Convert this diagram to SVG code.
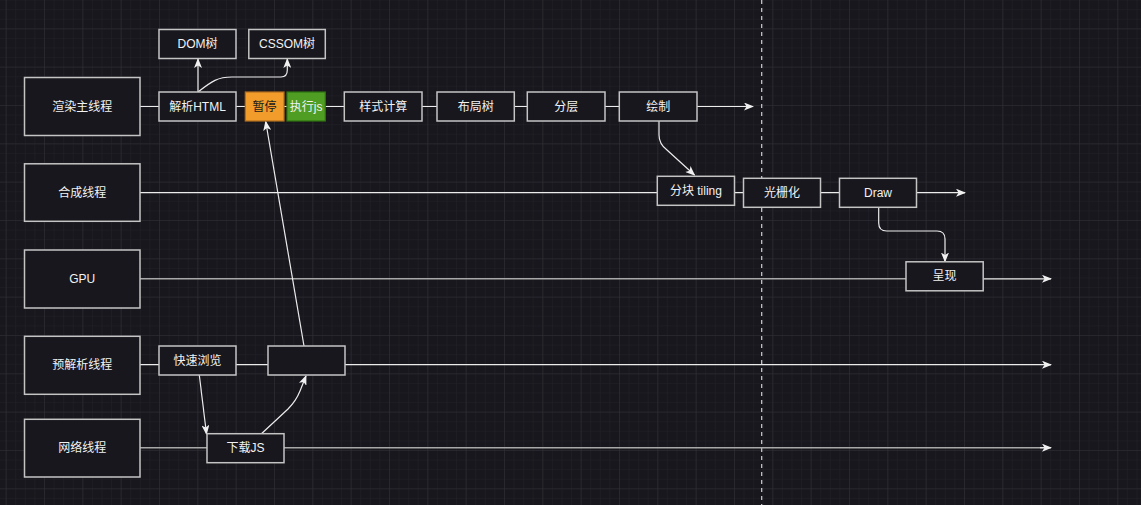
<svg xmlns="http://www.w3.org/2000/svg" width="1141" height="505" viewBox="0 0 1141 505">
  <defs>
    <pattern id="minor" x="5.67" y="-10" width="9.583" height="9.583" patternUnits="userSpaceOnUse">
      <path d="M0,0 H9.583 M0,0 V9.583" fill="none" stroke="#222127" stroke-width="1"/>
    </pattern>
    <pattern id="major" x="5.67" y="-10" width="38.333" height="38.333" patternUnits="userSpaceOnUse">
      <path d="M0,0 H38.333 M0,0 V38.333" fill="none" stroke="#303036" stroke-width="1"/>
    </pattern>
    <marker id="arr" viewBox="0 0 10 8" refX="9" refY="4" markerWidth="10" markerHeight="8" markerUnits="userSpaceOnUse" orient="auto">
      <path d="M0,0 L10,4 L0,8 L2.5,4 z" fill="#f0f0f0"/>
    </marker>
  </defs>
  <style>
    .box { fill: #18171d; stroke: #c4c4c4; stroke-width: 1.5; }
    .lbl { font-family: "Liberation Sans", "Noto Sans CJK SC", sans-serif; font-size: 12px; fill: #f2f2f2; text-anchor: middle; dominant-baseline: central; }
    .ln { fill: none; stroke: #ececec; stroke-width: 1.2; }
    .lg { fill: none; stroke: #a8a8a8; stroke-width: 1.6; }
    .ar { marker-end: url(#arr); }
  </style>
  <rect width="1141" height="505" fill="#18171d"/>
  <rect width="1141" height="505" fill="url(#minor)"/>
  <rect width="1141" height="505" fill="url(#major)"/>

  <line x1="761.7" y1="0" x2="761.7" y2="505" stroke="#d0d0d0" stroke-width="1.2" stroke-dasharray="4 4"/>

  <g id="connectors">
    <!-- row 1 -->
    <path class="ln" d="M140,106.5 H159 M236,106.5 H245 M284,106.5 H287 M325,106.5 H344 M422,106.5 H437 M514,106.5 H527 M605,106.5 H619"/>
    <path class="ln ar" d="M697,106.5 H753"/>
    <path class="ln ar" d="M198,92 V59"/>
    <path class="ln ar" d="M198,92 C212,81 218,77 232,77 L281,77 Q287.3,77 287.3,70 L287.3,59"/>
    <!-- row 2 -->
    <path class="ln" d="M140,192.7 H657 M734.5,192.7 H743.5 M820.5,192.7 H839.5"/>
    <path class="ln ar" d="M916.5,192.7 H965"/>
    <path class="ln ar" d="M659,121 L659,135 Q659,144 667,150 L694.5,175"/>
    <!-- row 3 -->
    <path class="lg" d="M140,278.8 H906"/>
    <path class="ln ar" d="M983,278.8 H1051"/>
    <path class="ln ar" d="M878.7,207.5 L878.7,223 Q878.7,231 886.7,231 L937,231 Q945,231 945,239 L945,261.5"/>
    <!-- row 4 -->
    <path class="ln" d="M140,364.7 H159 M236,364.7 H268"/>
    <path class="ln ar" d="M345,364.7 H1051"/>
    <path class="ln ar" d="M199.3,375 L206.5,434"/>
    <path class="ln ar" d="M261.7,433.5 L288,409 Q296,401 300,391 L306,376"/>
    <path class="ln ar" d="M304,346 L265.7,121.5"/>
    <!-- row 5 -->
    <path class="lg" d="M140,447.7 H207"/>
    <path class="lg" d="M284,447.7 H1045"/>
    <path class="ln ar" d="M1040,447.7 H1051"/>
  </g>

  <g id="n-render"><rect class="box" x="24.5" y="77.5" width="115.5" height="58"/><text class="lbl" x="82.2" y="106.5">渲染主线程</text></g>
  <g id="n-compose"><rect class="box" x="24.5" y="163.8" width="115.5" height="57.5"/><text class="lbl" x="82.2" y="192.5">合成线程</text></g>
  <g id="n-gpu"><rect class="box" x="24.5" y="250" width="115.5" height="58"/><text class="lbl" x="82.2" y="279">GPU</text></g>
  <g id="n-preparse"><rect class="box" x="24.5" y="336.3" width="115.5" height="58"/><text class="lbl" x="82.2" y="365.3">预解析线程</text></g>
  <g id="n-network"><rect class="box" x="24.5" y="419.3" width="115.5" height="57.7"/><text class="lbl" x="82.2" y="448">网络线程</text></g>

  <g id="n-dom"><rect class="box" x="159" y="29.5" width="77" height="29"/><text class="lbl" x="197.5" y="44">DOM树</text></g>
  <g id="n-cssom"><rect class="box" x="248.8" y="29.5" width="76.5" height="29"/><text class="lbl" x="287" y="44">CSSOM树</text></g>
  <g id="n-parse"><rect class="box" x="159" y="92" width="77" height="29"/><text class="lbl" x="197.5" y="106.5">解析HTML</text></g>
  <g id="n-pause"><rect x="245.3" y="92" width="38.7" height="29" fill="#f19c2b" stroke="#b2701e" stroke-width="1.2"/><text class="lbl" x="264.6" y="106.5" style="fill:#1a1a1a">暂停</text></g>
  <g id="n-execjs"><rect x="287" y="92" width="38.3" height="29" fill="#4f9d23" stroke="#2f7410" stroke-width="1.2"/><text class="lbl" x="306.2" y="106.5">执行js</text></g>
  <g id="n-style"><rect class="box" x="344.3" y="92" width="77.7" height="29"/><text class="lbl" x="383.2" y="106.5">样式计算</text></g>
  <g id="n-layout"><rect class="box" x="437" y="92" width="77.3" height="29"/><text class="lbl" x="475.7" y="106.5">布局树</text></g>
  <g id="n-layer"><rect class="box" x="527.3" y="92" width="77.7" height="29"/><text class="lbl" x="566.2" y="106.5">分层</text></g>
  <g id="n-paint"><rect class="box" x="619.3" y="92" width="77.7" height="29"/><text class="lbl" x="658.2" y="106.5">绘制</text></g>

  <g id="n-tiling"><rect class="box" x="657.3" y="176.3" width="77.2" height="29"/><text class="lbl" x="695.9" y="190.8">分块 tiling</text></g>
  <g id="n-raster"><rect class="box" x="743.5" y="178.3" width="77" height="29"/><text class="lbl" x="782" y="192.8">光栅化</text></g>
  <g id="n-draw"><rect class="box" x="839.5" y="178.3" width="77" height="29"/><text class="lbl" x="878" y="192.8">Draw</text></g>
  <g id="n-present"><rect class="box" x="906" y="261.8" width="77.2" height="29"/><text class="lbl" x="944.6" y="276.3">呈现</text></g>

  <g id="n-scan"><rect class="box" x="159" y="346" width="77" height="29"/><text class="lbl" x="197.5" y="360.8">快速浏览</text></g>
  <g id="n-empty"><rect class="box" x="268" y="346" width="77" height="29"/></g>
  <g id="n-download"><rect class="box" x="207" y="433.7" width="77" height="29"/><text class="lbl" x="245.5" y="448.2">下载JS</text></g>
</svg>
